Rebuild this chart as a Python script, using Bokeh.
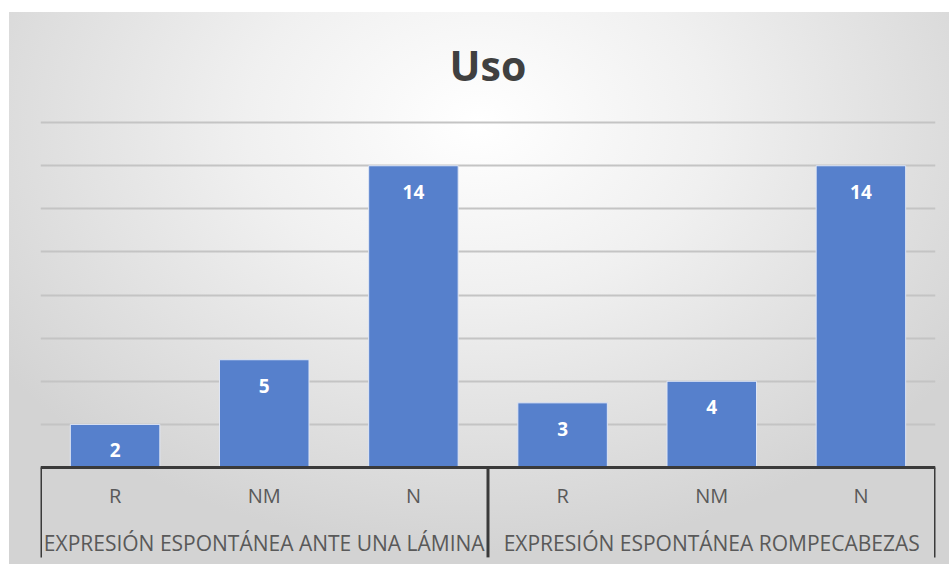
from bokeh.plotting import figure
from bokeh.models import FactorRange, Range1d, FixedTicker, ColumnDataSource, CategoricalAxis
from bokeh.core.properties import value
from bokeh.embed import file_html
from bokeh.resources import INLINE

# ---- data ----
groups = ["EXPRESIÓN ESPONTÁNEA ANTE UNA LÁMINA", "EXPRESIÓN ESPONTÁNEA ROMPECABEZAS"]
subcats = ["R", "NM", "N"]
values_lamina = [2, 5, 14]
values_rompe = [3, 4, 14]
y_ticks = [0, 2, 4, 6, 8, 10, 12, 14, 16]
title_text = "Uso"

# ---- layout constants ----
W, H = 949, 564
Y_TOP = 16.1           # a hair above the last gridline so it is drawn
Y_FLOOR = -4.5         # room below the baseline for the category labels (inside the frame)
SEP_DEPTH = -4.17      # how far the category separators reach below the baseline

factors = [(g, s) for g in groups for s in subcats]
counts = values_lamina + values_rompe
src = ColumnDataSource(dict(x=factors, top=counts, label=[str(c) for c in counts]))

p = figure(
    x_range=FactorRange(*factors, factor_padding=0, group_padding=0, range_padding=0),
    y_range=Range1d(Y_FLOOR, Y_TOP),
    width=W, height=H, output_backend="svg", toolbar_location=None,
    min_border_left=40, min_border_right=14, min_border_top=120, min_border_bottom=0,
)
p.extra_x_ranges = {"groups": FactorRange(*groups, factor_padding=0, range_padding=0)}
p.background_fill_alpha = 0
p.border_fill_alpha = 0
p.outline_line_color = None
p.styles = {
    "background-color": "white",
    "background-image": "radial-gradient(ellipse 62% 78% at 50% 20%, #ffffff 0%, #f0f0f0 40%, #d3d3d3 100%)",
    "background-position": "9px 12px",
    "background-size": "calc(100% - 9px) calc(100% - 12px)",
    "background-repeat": "no-repeat",
}

p.title.text = title_text
p.title.align = "center"
p.title.text_font = "Open Sans"
p.title.text_font_size = "41px"
p.title.text_font_style = "bold"
p.title.text_color = "#404040"
p.title.standoff = 55

p.vbar(x="x", top="top", width=0.6, source=src, fill_color="#5680CC", line_color="#dfe6f5", line_width=1)
p.text(x="x", y="top", text="label", source=src, y_offset=26,
       text_align="center", text_baseline="middle", text_color="white",
       text_font=value("Open Sans"), text_font_size="19px", text_font_style="bold")

# category separators (left edge, between groups, right edge), in synthetic factor units
sep_x = [0, len(subcats), len(factors)]
p.segment(x0=sep_x, x1=sep_x, y0=[0] * 3, y1=[SEP_DEPTH] * 3, line_color="#3a3a3a", line_width=3)

p.yaxis.visible = False
p.xgrid.visible = False
p.ygrid.ticker = FixedTicker(ticks=y_ticks)
p.ygrid.grid_line_color = "#c4c4c4"
p.ygrid.grid_line_width = 2

# inner category axis (R / NM / N) sitting on the baseline
ax = p.xaxis[0]
ax.fixed_location = 0
ax.axis_line_color = "#3a3a3a"
ax.axis_line_width = 3
ax.major_tick_line_color = None
ax.minor_tick_line_color = None
ax.major_label_text_font = "Open Sans"
ax.major_label_text_font_size = "20px"
ax.major_label_text_color = "#595959"
ax.major_label_standoff = 8
ax.group_text_color = None
ax.separator_line_color = None

# outer category axis (group names)
gax = CategoricalAxis(x_range_name="groups", fixed_location=0)
gax.axis_line_color = None
gax.major_tick_line_color = None
gax.minor_tick_line_color = None
gax.major_label_text_font = "Open Sans"
gax.major_label_text_font_size = "21px"
gax.major_label_text_color = "#595959"
gax.major_label_standoff = 55
p.add_layout(gax, "below")

open("out.html", "w").write(file_html(p, INLINE))
